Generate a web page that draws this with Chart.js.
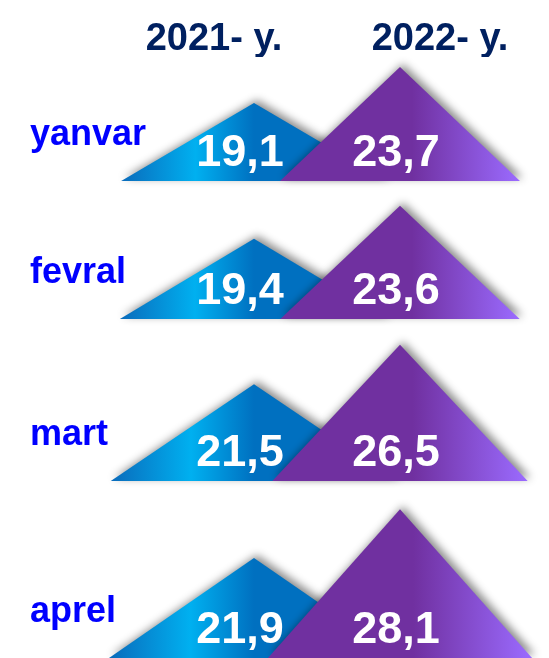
<!DOCTYPE html>
<html>
<head>
<meta charset="utf-8">
<script src="https://cdn.jsdelivr.net/npm/chart.js@4"></script>
<style>
  html, body { margin: 0; padding: 0; background: #fff; }
  #wrap { width: 549px; height: 658px; }
</style>
</head>
<body>
<div id="wrap"><canvas id="pyramids"></canvas></div>
<script>
const months = ["yanvar", "fevral", "mart", "aprel"];
const years = ["2021- y.", "2022- y."];
const values2021 = [19.1, 19.4, 21.5, 21.9];
const values2022 = [23.7, 23.6, 26.5, 28.1];

// layout of the rows (one stacked y axis per month)
const rowPx = [124, 138, 162, 177];
const yMin = 9.2;
const pxPerUnit = 7.87;
const labelLevel = 15.0;
const font = '"Liberation Sans", Arial, sans-serif';

function fmt(v) { return v.toFixed(1).replace(".", ","); }

// draws every bar as a shaded triangle, then the white value on it
const triangles = {
  id: "triangles",
  afterDatasetsDraw(chart) {
    const ctx = chart.ctx;
    const texts = [];
    chart.data.datasets.forEach(function (ds, i) {
      chart.getDatasetMeta(i).data.forEach(function (bar, j) {
        const h = bar.base - bar.y;
        const ax = bar.x + (j === 0 ? 40 : -40);
        const hw = j === 0 ? 90 + 0.55 * h : 80 + 0.35 * h;
        const l = ax - hw, r = ax + hw;
        const g = ctx.createLinearGradient(l, 0, r, 0);
        if (j === 0) {
          g.addColorStop(0, "#0a6bbb");
          g.addColorStop(0.28, "#00b0f0");
          g.addColorStop(0.5, "#0070c0");
          g.addColorStop(1, "#0070c0");
        } else {
          g.addColorStop(0, "#7030a0");
          g.addColorStop(0.55, "#7030a0");
          g.addColorStop(1, "#9b6bff");
        }
        ctx.save();
        ctx.shadowColor = "rgba(0,0,0,0.45)";
        ctx.shadowBlur = 8;
        ctx.shadowOffsetX = 3;
        ctx.shadowOffsetY = -3;
        ctx.beginPath();
        ctx.moveTo(l, bar.base);
        ctx.lineTo(ax, bar.y);
        ctx.lineTo(r, bar.base);
        ctx.closePath();
        ctx.fillStyle = g;
        ctx.fill();
        ctx.restore();
        texts.push({ x: ax + (j === 0 ? -14 : -4), y: bar.base - 15, t: fmt(ds.data[j]) });
      });
    });
    ctx.save();
    ctx.fillStyle = "#ffffff";
    ctx.font = "bold 45px " + font;
    ctx.textAlign = "center";
    ctx.textBaseline = "alphabetic";
    texts.forEach(function (p) { ctx.fillText(p.t, p.x, p.y); });
    ctx.restore();
  }
};

const scales = {
  x: {
    type: "category",
    position: "top",
    offset: false,
    grid: { display: false, drawTicks: false },
    border: { display: false },
    ticks: {
      color: "#002060",
      font: { family: font, size: 38, weight: "bold" },
      padding: -5,
      maxRotation: 0,
      autoSkip: false
    },
    afterFit: function (s) { s.height = 57; }
  }
};
// stacked axes are laid out last-defined on top, so add them in reverse
for (let i = months.length - 1; i >= 0; i--) {
  const m = months[i];
  scales["y" + i] = {
    type: "linear",
    position: "left",
    stack: "rows",
    stackWeight: rowPx[i],
    min: yMin,
    max: yMin + rowPx[i] / pxPerUnit,
    grid: { display: false, drawTicks: false },
    border: { display: false },
    afterBuildTicks: function (axis) { axis.ticks = [{ value: labelLevel }]; },
    afterFit: function (s) {
      s.width = 184;
      s.paddingTop = 0;
      s.paddingBottom = 0;
    },
    ticks: {
      crossAlign: "far",
      padding: 0,
      color: "#0000ff",
      font: { family: font, size: 36, weight: "bold" },
      callback: function () { return m; }
    }
  };
}

var ctx = document.getElementById("pyramids").getContext("2d");
var chart = new Chart(ctx, {
  type: "bar",
  data: {
    labels: years,
    datasets: months.map(function (m, i) {
      return {
        label: m,
        data: [values2021[i], values2022[i]],
        yAxisID: "y" + i,
        base: yMin,
        grouped: false,
        backgroundColor: "rgba(0,0,0,0)"
      };
    })
  },
  options: {
    responsive: true,
    maintainAspectRatio: false,
    animation: false,
    layout: { padding: { left: 30, right: 109, top: 0, bottom: 0 } },
    plugins: { legend: { display: false }, tooltip: { enabled: false } },
    scales: scales
  },
  plugins: [triangles]
});
</script>
</body>
</html>
